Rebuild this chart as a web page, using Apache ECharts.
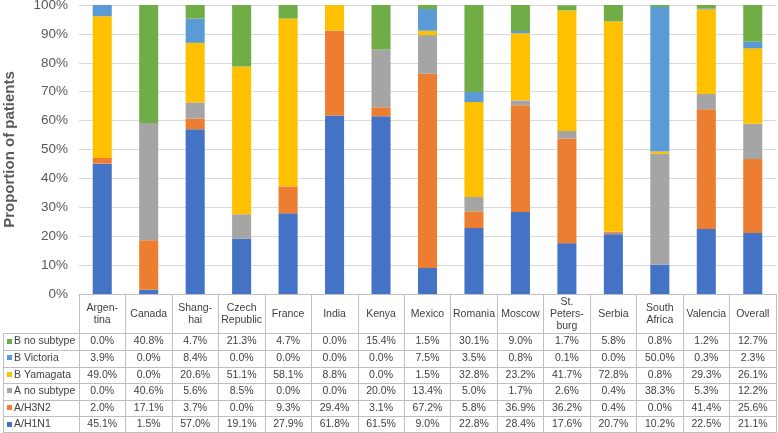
<!DOCTYPE html>
<html>
<head>
<meta charset="UTF-8">
<title></title>
<script src="https://cdn.jsdelivr.net/npm/echarts@6/dist/echarts.min.js"></script>
<style>
	html,body{margin:0;padding:0;background:#fff;}
	#chart{width:778px;height:433px;}
</style>
</head>
<body>
<div id="chart"></div>
<script>
// data
var categories = ['Argentina','Canada','Shanghai','Czech Republic','France','India','Kenya','Mexico','Romania','Moscow','St. Petersburg','Serbia','South Africa','Valencia','Overall'];
var headerLabels = ['Argen-\ntina','Canada','Shang-\nhai','Czech\nRepublic','France','India','Kenya','Mexico','Romania','Moscow','St.\nPeters-\nburg','Serbia','South\nAfrica','Valencia','Overall'];
var seriesNames = ['A/H1N1','A/H3N2','A no subtype','B Yamagata','B Victoria','B no subtype'];
var h1n1   = [45.1, 1.5, 57.0, 19.1, 27.9, 61.8, 61.5,  9.0, 22.8, 28.4, 17.6, 20.7, 10.2, 22.5, 21.1];
var h3n2   = [ 2.0,17.1,  3.7,  0.0,  9.3, 29.4,  3.1, 67.2,  5.8, 36.9, 36.2,  0.4,  0.0, 41.4, 25.6];
var aNoSub = [ 0.0,40.6,  5.6,  8.5,  0.0,  0.0, 20.0, 13.4,  5.0,  1.7,  2.6,  0.4, 38.3,  5.3, 12.2];
var bYam   = [49.0, 0.0, 20.6, 51.1, 58.1,  8.8,  0.0,  1.5, 32.8, 23.2, 41.7, 72.8,  0.8, 29.3, 26.1];
var bVic   = [ 3.9, 0.0,  8.4,  0.0,  0.0,  0.0,  0.0,  7.5,  3.5,  0.8,  0.1,  0.0, 50.0,  0.3,  2.3];
var bNoSub = [ 0.0,40.8,  4.7, 21.3,  4.7,  0.0, 15.4,  1.5, 30.1,  9.0,  1.7,  5.8,  0.8,  1.2, 12.7];
var seriesData = [h1n1, h3n2, aNoSub, bYam, bVic, bNoSub];
var colors = ['#4472C4','#ED7D31','#A5A5A5','#FFC000','#5B9BD5','#70AD47'];

var font = "'Liberation Sans', Arial, sans-serif";
var myChart = echarts.init(document.getElementById('chart'));

var series = [];
for (var i = 0; i < seriesNames.length; i++) {
	series.push({
		name: seriesNames[i],
		type: 'bar',
		stack: 'total',
		barWidth: '41%',
		itemStyle: {color: colors[i]},
		data: seriesData[i]
	});
}

var option = {
	animation: false,
	backgroundColor: '#fff',
	textStyle: {fontFamily: font},
	grid: {left: 79, right: 2, top: 5, bottom: 139, outerBoundsMode: 'none', containLabel: false},
	xAxis: {
		type: 'category',
		data: categories,
		axisLine: {lineStyle: {color: '#bfbfbf'}},
		axisTick: {show: true, interval: 0, length: 139, lineStyle: {color: '#bfbfbf'}},
		axisLabel: {show: false}
	},
	yAxis: {
		type: 'value',
		min: 0,
		max: 100,
		interval: 10,
		name: 'Proportion of patients',
		nameLocation: 'middle',
		nameGap: 62,
		nameTextStyle: {fontSize: 15, fontWeight: 'bold', color: '#595959', fontFamily: font},
		axisLine: {show: false},
		axisTick: {show: false},
		axisLabel: {formatter: '{value}%', fontSize: 13.5, color: '#595959', margin: 11, fontFamily: font},
		splitLine: {lineStyle: {color: '#d9d9d9'}}
	},
	series: series
};
myChart.setOption(option);

// data table below the axis
var tableTop = 333.3, rowH = 16.6, tableLeft = 3, tableRight = 776, headerY = 314;
var g = [];
for (var r = 0; r <= seriesNames.length; r++) {
	var y = Math.round(tableTop + r * rowH) + 0.5;
	if (r == seriesNames.length) y = 432.5;
	g.push({type: 'line', shape: {x1: tableLeft, y1: y, x2: tableRight, y2: y}, style: {stroke: '#bfbfbf', lineWidth: 1}});
}
g.push({type: 'line', shape: {x1: tableLeft + 0.5, y1: Math.round(tableTop) + 0.5, x2: tableLeft + 0.5, y2: 433}, style: {stroke: '#bfbfbf', lineWidth: 1}});

for (var c = 0; c < categories.length; c++) {
	var cx = myChart.convertToPixel({xAxisIndex: 0}, categories[c]);
	g.push({type: 'text', x: cx, y: headerY, style: {text: headerLabels[c], fontSize: 10.5, fontFamily: font, fill: '#404040', align: 'center', verticalAlign: 'middle', lineHeight: 12}});
	for (var r = 0; r < seriesNames.length; r++) {
		var si = seriesNames.length - 1 - r;
		g.push({type: 'text', x: cx, y: tableTop + (r + 0.5) * rowH, style: {text: seriesData[si][c].toFixed(1) + '%', fontSize: 10.5, fontFamily: font, fill: '#404040', align: 'center', verticalAlign: 'middle'}});
	}
}
for (var r = 0; r < seriesNames.length; r++) {
	var si = seriesNames.length - 1 - r;
	var cy = tableTop + (r + 0.5) * rowH;
	g.push({type: 'rect', shape: {x: 7, y: Math.round(cy) - 3, width: 5, height: 5}, style: {fill: colors[si]}});
	g.push({type: 'text', x: 14, y: cy, style: {text: seriesNames[si], fontSize: 10.5, fontFamily: font, fill: '#404040', align: 'left', verticalAlign: 'middle'}});
}
myChart.setOption({graphic: g});

window.addEventListener('resize', function(){
	myChart.resize();
});
</script>
</body>
</html>
